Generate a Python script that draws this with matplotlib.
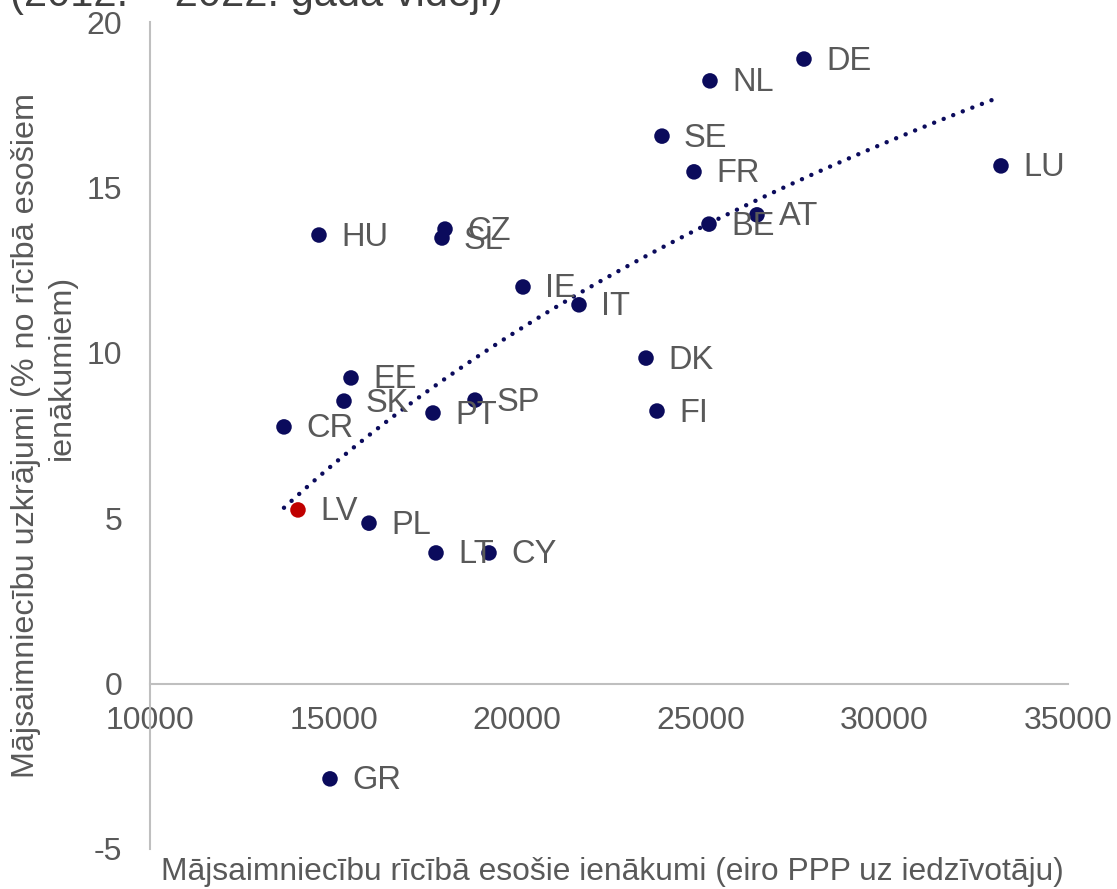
import numpy as np
import matplotlib
matplotlib.use("Agg")
import matplotlib.pyplot as plt

plt.rcParams['font.family'] = ['Liberation Sans', 'DejaVu Sans']
plt.rcParams['axes.unicode_minus'] = False

countries = ['DE', 'NL', 'SE', 'FR', 'LU', 'AT', 'BE', 'HU', 'CZ', 'SL', 'IE', 'IT',
             'DK', 'EE', 'SK', 'SP', 'PT', 'FI', 'CR', 'LV', 'PL', 'LT', 'CY', 'GR']
income = [27810, 25250, 23943, 24815, 33175, 26530, 25223, 14602, 18034, 17952, 20158, 21683,
          23508, 15474, 15283, 18851, 17707, 23807, 13649, 14030, 15964, 17789, 19232, 14902]
savings = [18.88, 18.22, 16.55, 15.47, 15.65, 14.17, 13.89, 13.56, 13.74, 13.47, 11.99, 11.45,
           9.84, 9.24, 8.54, 8.57, 8.18, 8.24, 7.76, 5.25, 4.85, 3.95, 3.95, -2.88]
highlight = 'LV'

x_ticks = [10000, 15000, 20000, 25000, 30000, 35000]
y_ticks = [-5, 0, 5, 10, 15, 20]

title_text = '(2012. – 2022. gada vidēji)'
xlabel = 'Mājsaimniecību rīcībā esošie ienākumi (eiro PPP uz iedzīvotāju)'
ylabel1 = 'Mājsaimniecību uzkrājumi (% no rīcībā esošiem'
ylabel2 = 'ienākumiem)'

navy = '#0b0b5c'
red = '#c00000'
gray_text = '#595959'
axis_gray = '#bfbfbf'

W, H = 1117, 889
fig = plt.figure(figsize=(W / 100, H / 100), dpi=100)
ax = fig.add_axes([150 / W, 1 - 849 / H, (1068 - 150) / W, (849 - 22) / H])

x = np.array(income, dtype=float)
y = np.array(savings, dtype=float)

# logarithmic trendline (least squares on ln x)
a, b = np.polyfit(np.log(x), y, 1)
xt = np.linspace(x.min(), x.max(), 300)
ax.plot(xt, a * np.log(xt) + b, color=navy, lw=3.2,
        linestyle=(0, (0.01, 2.3)), dash_capstyle='round', zorder=2)

colors = [red if c == highlight else navy for c in countries]
ax.scatter(x, y, s=125, c=colors, edgecolors='none', zorder=3)

for c, xi, yi in zip(countries, x, y):
    ax.annotate(c, (xi, yi), xytext=(22, -2), textcoords='offset pixels',
                ha='left', va='center', fontsize=23.5, color=gray_text, zorder=4)

ax.set_xlim(10000, 35000)
ax.set_ylim(-5, 20)
ax.set_xticks(x_ticks)
ax.set_yticks(y_ticks)
ax.tick_params(axis='both', length=0, labelsize=23, colors=gray_text)
ax.tick_params(axis='x', pad=16)
ax.tick_params(axis='y', pad=20)

ax.spines['top'].set_visible(False)
ax.spines['right'].set_visible(False)
ax.spines['bottom'].set_position(('data', 0))
for s in ['left', 'bottom']:
    ax.spines[s].set_color(axis_gray)
    ax.spines[s].set_linewidth(1.5)

fig.text(612 / W, 1 - 872 / H, xlabel, ha='center', va='center', fontsize=22.9, color=gray_text)
fig.text(26 / W, 1 - 436 / H, ylabel1, ha='center', va='center', rotation=90,
         fontsize=23.3, color=gray_text)
fig.text(62 / W, 1 - 367 / H, ylabel2, ha='center', va='center', rotation=90,
         fontsize=23.3, color=gray_text)

fig.text(10 / W, 1 - 6 / H, title_text, ha='left', va='baseline', fontsize=30, color='#404040')

fig.savefig('out.png', dpi=100)
